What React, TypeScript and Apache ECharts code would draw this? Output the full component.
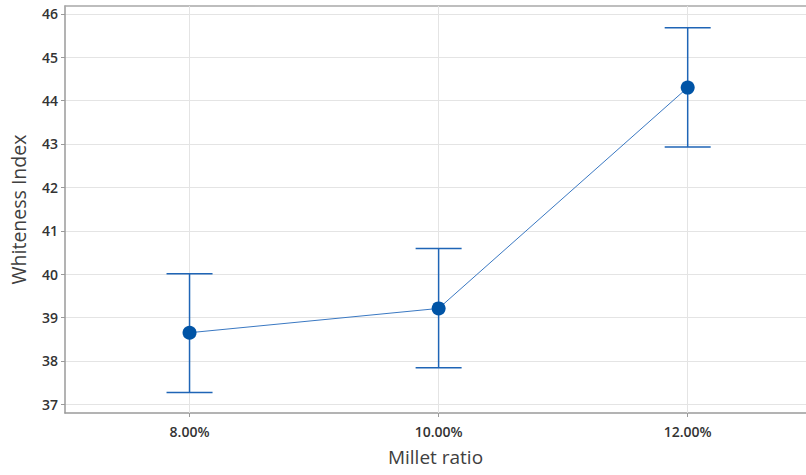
import React, { useEffect, useRef } from "react";
import * as echarts from "echarts";

// Millet ratio (%) and whiteness index: mean with lower/upper interval limits
const ratios = [8, 10, 12];
const means = [38.65, 39.21, 44.3];
const lower = [37.27, 37.84, 42.93];
const upper = [40.01, 40.59, 45.68];
const yTicks = [37, 38, 39, 40, 41, 42, 43, 44, 45, 46];

const FONT = "'Open Sans', 'Noto Sans', sans-serif";
const GRID_COLOR = "#e4e4e4";
const AXIS_COLOR = "#9a9a9a";
const X_MIN = 7;
const X_MAX = 12.95;

export default function App() {
  const ref = useRef<HTMLDivElement>(null);

  useEffect(() => {
    if (!ref.current) return;
    const chart = echarts.init(ref.current, undefined, { renderer: "svg" });

    const errData = ratios.map((r, i) => [r, lower[i], upper[i]]);

    chart.setOption({
      animation: false,
      backgroundColor: "#ffffff",
      grid: {
        left: 63,
        right: 0,
        top: 6,
        bottom: 62,
      },
      xAxis: [
        {
          type: "value",
          min: X_MIN,
          max: X_MAX,
          name: "Millet ratio",
          nameLocation: "middle",
          nameGap: 34,
          nameTextStyle: { fontFamily: FONT, fontSize: 19, color: "#404040" },
          axisLine: { show: true, lineStyle: { color: AXIS_COLOR, width: 1.5 } },
          axisTick: {
            show: true,
            customValues: ratios,
            length: 4,
            lineStyle: { color: AXIS_COLOR },
          },
          axisLabel: {
            customValues: ratios,
            margin: 11,
            fontFamily: FONT,
            fontSize: 14,
            fontWeight: 600,
            color: "#333333",
            formatter: (v: number) => v.toFixed(2) + "%",
          },
          splitLine: { show: false },
        },
        {
          // top frame line
          type: "value",
          position: "top",
          min: X_MIN,
          max: X_MAX,
          axisLine: { show: true, onZero: false, lineStyle: { color: "#a8a8a8", width: 1.5 } },
          axisTick: { show: false },
          axisLabel: { show: false },
          splitLine: { show: false },
        },
      ],
      yAxis: {
        type: "value",
        min: 36.8,
        max: 46.18,
        minInterval: 1,
        maxInterval: 1,
        name: "Whiteness Index",
        nameLocation: "middle",
        nameGap: 37,
        nameTextStyle: { fontFamily: FONT, fontSize: 19.5, color: "#404040" },
        axisLine: { show: true, lineStyle: { color: AXIS_COLOR, width: 1.5 } },
        axisTick: {
          show: true,
          customValues: yTicks,
          length: 4,
          lineStyle: { color: AXIS_COLOR },
        },
        axisLabel: {
          customValues: yTicks,
          margin: 7,
          fontFamily: FONT,
          fontSize: 14,
          fontWeight: 600,
          color: "#333333",
        },
        splitLine: { show: true, lineStyle: { color: GRID_COLOR, width: 1 } },
      },
      series: [
        {
          type: "line",
          data: ratios.map((r, i) => [r, means[i]]),
          symbol: "circle",
          symbolSize: 14,
          z: 4,
          lineStyle: { color: "#3a78c2", width: 1 },
          itemStyle: { color: "#0054a6" },
          markLine: {
            silent: true,
            symbol: ["none", "none"],
            label: { show: false },
            z: 1,
            lineStyle: { color: GRID_COLOR, width: 1, type: "solid" },
            data: ratios.map((r) => ({ xAxis: r })),
          },
        },
        {
          type: "custom",
          z: 3,
          data: errData,
          renderItem: (params: any, api: any) => {
            const x = api.value(0);
            const lo = api.coord([x, api.value(1)]);
            const hi = api.coord([x, api.value(2)]);
            const half = 23;
            const style = { stroke: "#1f65b6", lineWidth: 1.5 };
            return {
              type: "group",
              children: [
                { type: "line", shape: { x1: hi[0], y1: hi[1], x2: lo[0], y2: lo[1] }, style },
                { type: "line", shape: { x1: hi[0] - half, y1: hi[1], x2: hi[0] + half, y2: hi[1] }, style },
                { type: "line", shape: { x1: lo[0] - half, y1: lo[1], x2: lo[0] + half, y2: lo[1] }, style },
              ],
            };
          },
        },
      ],
    });

    return () => chart.dispose();
  }, []);

  return (
    <div
      ref={ref}
      style={{ position: "fixed", left: 0, top: 0, width: 806, height: 475, background: "#fff" }}
    />
  );
}
